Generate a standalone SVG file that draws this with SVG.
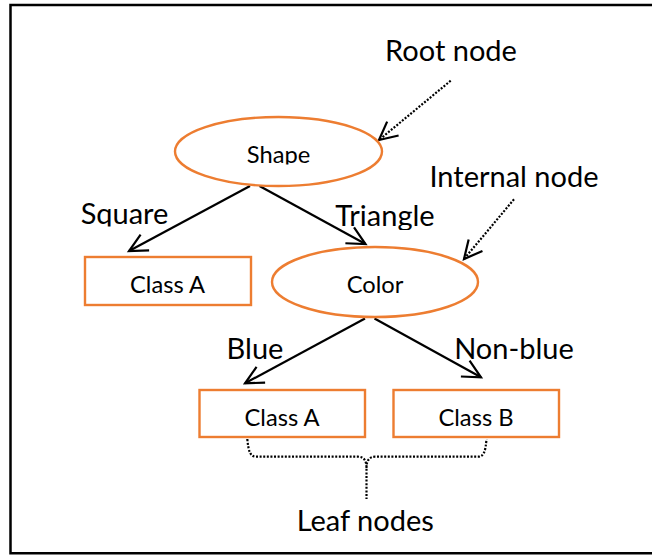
<svg xmlns="http://www.w3.org/2000/svg" width="652" height="555" viewBox="0 0 652 555">
  <style>
    .node { fill: #ffffff; stroke: #ED7D31; stroke-width: 2.4; }
    .ntext { font-family: Lato, "Open Sans", sans-serif; font-size: 23.7px; fill: #000; text-anchor: middle; }
    .label { font-family: Lato, "Open Sans", sans-serif; font-size: 29px; fill: #000; text-anchor: middle; }
    .edge { fill: none; stroke: #000; stroke-width: 2.2; marker-end: url(#arrow); }
    .pointer { fill: none; stroke: #000; stroke-width: 2.2; stroke-dasharray: 2 1.6; marker-end: url(#arrow); }
    .brace { fill: none; stroke: #000; stroke-width: 2.2; stroke-dasharray: 2 1.6; }
  </style>
  <defs>
    <marker id="arrow" markerUnits="userSpaceOnUse" markerWidth="40" markerHeight="40" refX="0" refY="0" orient="auto" overflow="visible">
      <path d="M-18,-9 L0,0 L-18,9" fill="none" stroke="#000" stroke-width="2.2" stroke-dasharray="none"/>
    </marker>
    <!-- text boxes cut off the lower part of descenders -->
    <clipPath id="clipShape" clipPathUnits="userSpaceOnUse"><rect x="200" y="120" width="160" height="44.5"/></clipPath>
    <clipPath id="clipSquare" clipPathUnits="userSpaceOnUse"><rect x="60" y="190" width="130" height="36.5"/></clipPath>
    <clipPath id="clipTriangle" clipPathUnits="userSpaceOnUse"><rect x="320" y="190" width="130" height="40"/></clipPath>
  </defs>

  <!-- outer frame -->
  <path d="M660,5 H10.5 V553.3 H660" fill="none" stroke="#000" stroke-width="2.5"/>

  <g id="connectors">
    <line class="edge" x1="250" y1="186" x2="129" y2="251"/>
    <line class="edge" x1="259.5" y1="186" x2="365.5" y2="244"/>
    <line class="edge" x1="365" y1="318.5" x2="245" y2="383.3"/>
    <line class="edge" x1="374.5" y1="318.5" x2="481" y2="377.3"/>
    <line class="pointer" x1="450.7" y1="80.7" x2="379" y2="140"/>
    <line class="pointer" x1="514" y1="199.3" x2="464" y2="259"/>
    <path class="brace" d="M247.3,439 C248.5,452 250.5,456.7 256,456.7 L358,456.7 C364,456.7 366.5,461 366.5,468 L366.5,499 M366.5,468 C366.5,461 369,456.7 375,456.7 L478,456.7 C483.5,456.7 485.5,452 486.5,439"/>
  </g>

  <g id="node-shape">
    <ellipse class="node" cx="278.5" cy="151.5" rx="103.5" ry="34.5"/>
    <text class="ntext" x="278.5" y="162.5" clip-path="url(#clipShape)">Shape</text>
  </g>
  <g id="node-color">
    <ellipse class="node" cx="375" cy="282" rx="103" ry="35"/>
    <text class="ntext" x="375" y="293">Color</text>
  </g>
  <g id="leaf-square">
    <rect class="node" x="85" y="257" width="166" height="48"/>
    <text class="ntext" x="167.5" y="293">Class A</text>
  </g>
  <g id="leaf-blue">
    <rect class="node" x="199.5" y="390" width="165.5" height="47"/>
    <text class="ntext" x="282" y="426">Class A</text>
  </g>
  <g id="leaf-nonblue">
    <rect class="node" x="393.5" y="390" width="165.5" height="47"/>
    <text class="ntext" x="476" y="426">Class B</text>
  </g>

  <g id="labels">
    <text class="label" x="124.5" y="223.5" clip-path="url(#clipSquare)">Square</text>
    <text class="label" x="385" y="225.5" clip-path="url(#clipTriangle)">Triangle</text>
    <text class="label" x="255" y="359.3">Blue</text>
    <text class="label" x="514" y="359.3">Non-blue</text>
    <text class="label" x="451" y="60.7">Root node</text>
    <text class="label" x="514" y="186.7">Internal node</text>
    <text class="label" x="365.3" y="531">Leaf nodes</text>
  </g>
</svg>
